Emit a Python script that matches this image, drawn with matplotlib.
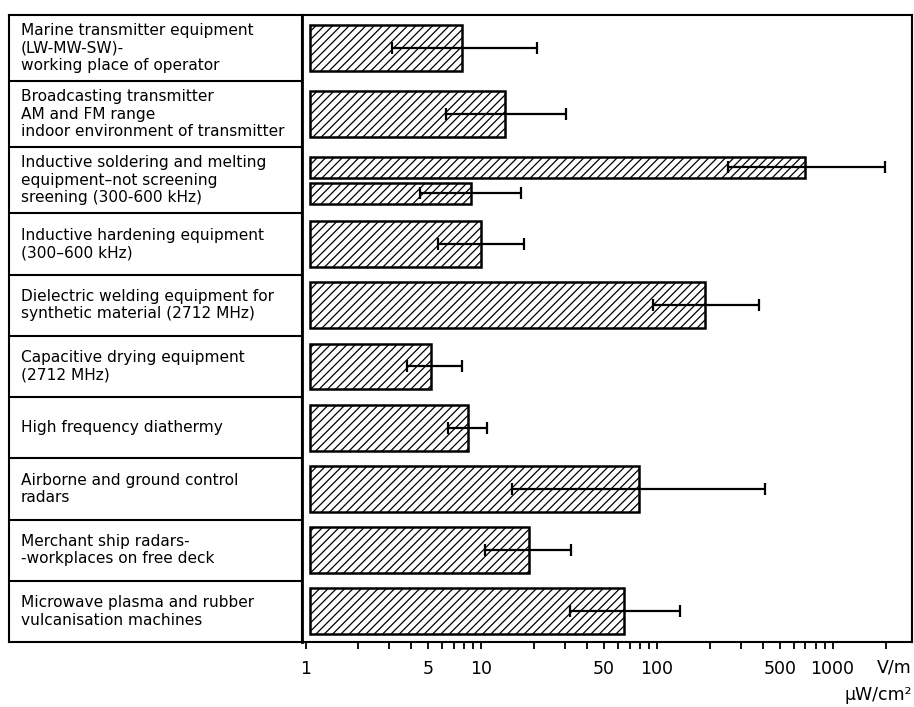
import numpy as np
import matplotlib.pyplot as plt
from matplotlib.ticker import FixedLocator, FixedFormatter, NullFormatter

# row labels of the table on the left
labels = [
    'Marine transmitter equipment\n(LW-MW-SW)-\nworking place of operator',
    'Broadcasting transmitter\nAM and FM range\nindoor environment of transmitter',
    'Inductive soldering and melting\nequipment\u2013not screening\nsreening (300-600 kHz)',
    'Inductive hardening equipment\n(300\u2013600 kHz)',
    'Dielectric welding equipment for\nsynthetic material (2712 MHz)',
    'Capacitive drying equipment\n(2712 MHz)',
    'High frequency diathermy',
    'Airborne and ground control\nradars',
    'Merchant ship radars-\n-workplaces on free deck',
    'Microwave plasma and rubber\nvulcanisation machines',
]

# one entry per bar (row 3 has two bars: not screening / screening)
bar_row = [0, 1, 2, 2, 3, 4, 5, 6, 7, 8, 9]
bar_value = [7.8, 13.7, 700, 8.7, 10.0, 188, 5.2, 8.4, 79, 18.7, 65]
err_low = [3.1, 6.3, 254, 4.5, 5.7, 95, 3.8, 6.5, 15.0, 10.5, 32]
err_high = [20.8, 30.4, 1990, 16.9, 17.5, 382, 7.8, 10.8, 414, 32.3, 136]

tick_values = [1, 5, 10, 50, 100, 500, 1000]
tick_labels = ['1', '5', '10', '50', '100', '500', '1000']

plt.rcParams['hatch.linewidth'] = 0.9

# rows with three text lines are a bit taller
nlines = np.array([s.count('\n') + 1 for s in labels])
weights = np.where(nlines == 3, 1.08, 1.0)
edges = np.concatenate([[0], np.cumsum(weights)])
centers = (edges[:-1] + edges[1:]) / 2
total = edges[-1]

# bar y positions and heights
bar_row = np.array(bar_row)
ys, hs = [], []
for i, r in enumerate(bar_row):
    same = np.where(bar_row == r)[0]
    if len(same) == 1:
        ys.append(centers[r])
        hs.append(0.75)
    else:
        k = list(same).index(i)
        ys.append(centers[r] + (-0.21 if k == 0 else 0.21))
        hs.append(0.345)
ys = np.array(ys)
vals = np.array(bar_value)
lo = np.array(err_low)
hi = np.array(err_high)

W, H = 914, 707
fig = plt.figure(figsize=(W / 100, H / 100), dpi=100)
bottom = 1 - 642 / H
height = 627 / H
ax = fig.add_axes([302 / W, bottom, 610 / W, height])
tab = fig.add_axes([9 / W, bottom, 293 / W, height])

# chart
start = 1.06
ax.set_xscale('log')
ax.barh(ys, vals - start, left=start, height=hs, color='white',
        edgecolor='black', hatch='////', linewidth=1.8, zorder=2)
ax.errorbar(vals, ys, xerr=[vals - lo, hi - vals], fmt='none', ecolor='black',
            elinewidth=1.6, capsize=4.5, capthick=1.6, zorder=3)
ax.set_xlim(0.955, 2830)
ax.set_ylim(total, 0)

minor = [k * 10 ** d for d in range(3) for k in (2, 3, 4, 6, 7, 8, 9)] + [2000]
ax.xaxis.set_major_locator(FixedLocator(tick_values))
ax.xaxis.set_major_formatter(FixedFormatter(tick_labels))
ax.xaxis.set_minor_locator(FixedLocator(minor))
ax.xaxis.set_minor_formatter(NullFormatter())
ax.tick_params(axis='x', which='both', direction='out', length=5, width=1.3,
               labelsize=12.5, pad=8)
ax.tick_params(axis='y', left=False, labelleft=False)
for s in ax.spines.values():
    s.set_linewidth(1.5)
ax.spines['left'].set_linewidth(2.0)

fig.text(912 / W, 1 - 668 / H, 'V/m', ha='right', va='center', fontsize=12.5)
fig.text(912 / W, 1 - 695 / H, '\u00b5W/cm\u00b2', ha='right', va='center', fontsize=12.5)

# table of labels
tab.set_xlim(0, 1)
tab.set_ylim(total, 0)
tab.set_xticks([])
tab.set_yticks([])
for s in tab.spines.values():
    s.set_linewidth(1.5)
tab.hlines(edges[1:-1], 0, 1, colors='black', linewidth=1.5)
for c, txt in zip(centers, labels):
    tab.text(0.041, c, txt, ha='left', va='center', fontsize=11.1, linespacing=1.2)

fig.savefig('out.png', dpi=100)
